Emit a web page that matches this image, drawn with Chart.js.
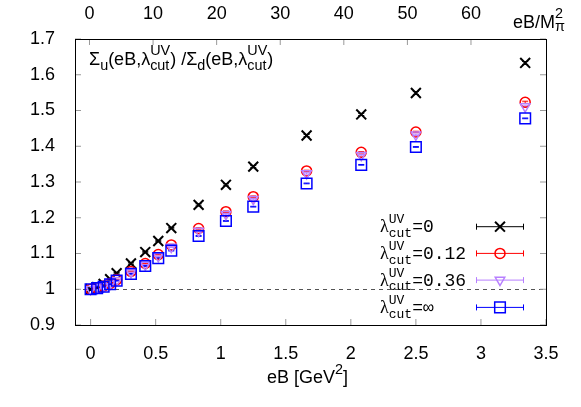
<!DOCTYPE html>
<html>
<head>
<meta charset="utf-8">
<title>Sigma_u / Sigma_d</title>
<script src="https://cdn.jsdelivr.net/npm/chart.js@4/dist/chart.umd.min.js"></script>
<style>
html, body { margin: 0; padding: 0; background: #fff; }
</style>
</head>
<body>
<canvas id="grafik" width="581" height="407"></canvas>
<script>
// data
var eB        = [0, 0.05, 0.10, 0.15, 0.20, 0.31, 0.42, 0.52, 0.62, 0.83, 1.04, 1.25, 1.66, 2.08, 2.50, 3.34];
var sigma_0   = [1.000, 1.006, 1.015, 1.028, 1.045, 1.072, 1.104, 1.135, 1.171, 1.236, 1.292, 1.343, 1.430, 1.489, 1.549, 1.633];
var sigma_012 = [1.000, 1.004, 1.009, 1.016, 1.027, 1.050, 1.072, 1.097, 1.124, 1.170, 1.217, 1.259, 1.331, 1.383, 1.440, 1.523];
var sigma_036 = [1.000, 1.003, 1.008, 1.015, 1.025, 1.047, 1.068, 1.092, 1.118, 1.163, 1.210, 1.252, 1.324, 1.375, 1.432, 1.511];
var sigma_inf = [1.000, 1.003, 1.007, 1.014, 1.024, 1.043, 1.065, 1.087, 1.108, 1.149, 1.191, 1.231, 1.296, 1.348, 1.398, 1.478];
var err_0     = [0.001, 0.001, 0.001, 0.001, 0.002, 0.002, 0.002, 0.002, 0.002, 0.003, 0.003, 0.003, 0.003, 0.003, 0.004, 0.004];
var err_012   = [0.001, 0.001, 0.001, 0.001, 0.001, 0.001, 0.001, 0.001, 0.002, 0.002, 0.002, 0.002, 0.002, 0.002, 0.002, 0.003];
var err_036   = [0.001, 0.001, 0.001, 0.001, 0.001, 0.001, 0.001, 0.001, 0.001, 0.002, 0.002, 0.002, 0.002, 0.002, 0.002, 0.002];
var err_inf   = [0.001, 0.001, 0.001, 0.001, 0.001, 0.001, 0.001, 0.001, 0.001, 0.001, 0.001, 0.001, 0.001, 0.001, 0.001, 0.001];

var x_ticks  = [0, 0.5, 1, 1.5, 2, 2.5, 3, 3.5];
var x2_ticks = [0, 10, 20, 30, 40, 50, 60];
var y_ticks  = [0.9, 1, 1.1, 1.2, 1.3, 1.4, 1.5, 1.6, 1.7];
var lambda_labels = ['0', '0.12', '0.36', '\u221e'];

var SANS = 'Liberation Sans';
var MONO = 'Liberation Mono';

function titik(ys, errs) {
    return eB.map(function(x, i){
        return {x: x, y: ys[i], e: errs[i]};
    });
}

// tulis teks dengan sub/superscript
function tulis(ctx, x, y, parts) {
    parts.forEach(function(p){
        ctx.font = p.f;
        if (p.sup !== undefined) {
            var w1 = ctx.measureText(p.sup).width;
            var w2 = ctx.measureText(p.sub).width;
            ctx.fillText(p.sup, x, y + p.dsup);
            ctx.fillText(p.sub, x, y + p.dsub);
            x += Math.max(w1, w2);
        } else {
            ctx.fillText(p.t, x, y + (p.dy || 0));
            x += ctx.measureText(p.t).width;
        }
    });
    return x;
}

function tickMarks(ctx, scale, ticks, horizontal, edge, dir) {
    ticks.forEach(function(v){
        var p = scale.getPixelForValue(v);
        ctx.beginPath();
        if (horizontal) {
            ctx.moveTo(p, edge);
            ctx.lineTo(p, edge + dir * 6);
        } else {
            ctx.moveTo(edge, p);
            ctx.lineTo(edge + dir * 6, p);
        }
        ctx.stroke();
    });
}

var extras = {
    id: 'extras',
    beforeDatasetsDraw: function(chart) {
        var ctx = chart.ctx;
        var a = chart.chartArea;
        var sx = chart.scales.x, sy = chart.scales.y;
        ctx.save();
        // garis putus-putus di 1
        ctx.strokeStyle = '#555';
        ctx.lineWidth = 1;
        ctx.setLineDash([4, 4]);
        ctx.beginPath();
        ctx.moveTo(a.left, Math.round(sy.getPixelForValue(1)) + 0.5);
        ctx.lineTo(a.right, Math.round(sy.getPixelForValue(1)) + 0.5);
        ctx.stroke();
        ctx.setLineDash([]);
        // error bar
        chart.data.datasets.forEach(function(ds){
            ctx.strokeStyle = ds.borderColor;
            ctx.lineWidth = 1;
            ds.data.forEach(function(d){
                var px = sx.getPixelForValue(d.x);
                var y1 = sy.getPixelForValue(d.y - d.e);
                var y2 = sy.getPixelForValue(d.y + d.e);
                ctx.beginPath();
                ctx.moveTo(px, y1); ctx.lineTo(px, y2);
                ctx.moveTo(px - 3, y1); ctx.lineTo(px + 3, y1);
                ctx.moveTo(px - 3, y2); ctx.lineTo(px + 3, y2);
                ctx.stroke();
            });
        });
        ctx.restore();
    },
    afterDraw: function(chart) {
        var ctx = chart.ctx;
        var a = chart.chartArea;
        ctx.save();
        // tick kecil ke dalam
        ctx.strokeStyle = '#999';
        ctx.lineWidth = 1;
        tickMarks(ctx, chart.scales.x, x_ticks, true, a.bottom, -1);
        tickMarks(ctx, chart.scales.x2, x2_ticks, true, a.top, 1);
        tickMarks(ctx, chart.scales.y, y_ticks, false, a.left, 1);
        tickMarks(ctx, chart.scales.y, y_ticks, false, a.right, -1);
        // bingkai
        ctx.strokeStyle = '#000';
        ctx.strokeRect(Math.round(a.left) + 0.5, Math.round(a.top) + 0.5, Math.round(a.right - a.left), Math.round(a.bottom - a.top));

        ctx.fillStyle = '#000';
        ctx.textAlign = 'left';
        ctx.textBaseline = 'alphabetic';
        var big = '18px "' + SANS + '"';
        var small = '14.4px "' + SANS + '"';
        // judul di dalam plot
        tulis(ctx, 89, 65, [
            {t: '\u03a3', f: big},
            {t: 'u', f: small, dy: 5},
            {t: '(eB,\u03bb', f: big},
            {sup: 'UV', sub: 'cut', f: small, dsup: -10, dsub: 5},
            {t: ') /\u03a3', f: big},
            {t: 'd', f: small, dy: 5},
            {t: '(eB,\u03bb', f: big},
            {sup: 'UV', sub: 'cut', f: small, dsup: -10, dsub: 5},
            {t: ')', f: big}
        ]);
        // label sumbu x
        tulis(ctx, 267, 383, [
            {t: 'eB [GeV', f: big},
            {t: '2', f: small, dy: -9},
            {t: ']', f: big}
        ]);
        // label sumbu atas
        tulis(ctx, 513, 28, [
            {t: 'eB/M', f: big},
            {sup: '2', sub: '\u03c0', f: small, dsup: -10, dsub: 3}
        ]);

        // legenda
        var rows = [232.3, 259, 285.7, 313];
        chart.data.datasets.forEach(function(ds, i){
            var b = rows[i];
            ctx.fillStyle = '#000';
            tulis(ctx, 380, b, [
                {t: '\u03bb', f: '18px "Liberation Serif"'},
                {sup: 'UV', sub: 'cut', f: '13px "' + MONO + '"', dsup: -9, dsub: 4.5},
                {t: '=' + lambda_labels[i], f: '18px "' + MONO + '"'}
            ]);
            var cy = b - 5.6;
            ctx.strokeStyle = ds.borderColor;
            ctx.lineWidth = 1;
            ctx.beginPath();
            ctx.moveTo(476, cy); ctx.lineTo(524, cy);
            ctx.moveTo(476.5, cy - 3); ctx.lineTo(476.5, cy + 3);
            ctx.moveTo(523.5, cy - 3); ctx.lineTo(523.5, cy + 3);
            ctx.stroke();
            ctx.fillStyle = 'rgba(0,0,0,0)';
            ctx.lineWidth = ds.borderWidth;
            Chart.helpers.drawPoint(ctx, {
                pointStyle: ds.pointStyle,
                radius: ds.pointRadius,
                rotation: ds.pointRotation || 0,
                borderWidth: ds.borderWidth
            }, 500, cy);
        });
        ctx.restore();
    }
};

function dataset(ys, errs, warna, gaya, r, lebar, urut, rot) {
    return {
        data: titik(ys, errs),
        showLine: false,
        borderColor: warna,
        backgroundColor: 'rgba(0,0,0,0)',
        pointStyle: gaya,
        pointRadius: r,
        pointHoverRadius: r,
        pointRotation: rot || 0,
        borderWidth: lebar,
        order: urut
    };
}

var tickFont = {family: SANS, size: 18};

new Chart(document.getElementById('grafik').getContext('2d'), {
    type: 'scatter',
    data: {
        datasets: [
            dataset(sigma_0,   err_0,   '#000000', 'crossRot', 7,   2,   3),
            dataset(sigma_012, err_012, '#ff0000', 'circle',   5,   1.5, 2),
            dataset(sigma_036, err_036, '#b77fff', 'triangle', 5.5, 1.5, 1, 180),
            dataset(sigma_inf, err_inf, '#0000ff', 'rect',     7.5, 1.5, 0)
        ]
    },
    options: {
        responsive: false,
        animation: false,
        devicePixelRatio: 1,
        layout: { padding: { left: 0, right: 35, top: 0, bottom: 0 } },
        plugins: {
            legend: { display: false },
            tooltip: { enabled: false }
        },
        scales: {
            x: {
                type: 'linear',
                position: 'bottom',
                min: -0.12,
                max: 3.5,
                afterBuildTicks: function(s){ s.ticks = x_ticks.map(function(v){ return {value: v}; }); },
                afterFit: function(s){ s.height = 82; },
                grid: { display: false },
                border: { display: false },
                ticks: { font: tickFont, color: '#000', padding: 10, maxRotation: 0, autoSkip: false,
                    callback: function(v){ return String(v); } }
            },
            x2: {
                type: 'linear',
                position: 'top',
                min: -2.28,
                max: 71.8,
                afterBuildTicks: function(s){ s.ticks = x2_ticks.map(function(v){ return {value: v}; }); },
                afterFit: function(s){ s.height = 39; },
                grid: { display: false },
                border: { display: false },
                ticks: { font: tickFont, color: '#000', padding: 6, maxRotation: 0, autoSkip: false,
                    callback: function(v){ return String(v); } }
            },
            y: {
                type: 'linear',
                position: 'left',
                min: 0.9,
                max: 1.7,
                afterBuildTicks: function(s){ s.ticks = y_ticks.map(function(v){ return {value: v}; }); },
                afterFit: function(s){ s.width = 75; },
                grid: { display: false },
                border: { display: false },
                ticks: { font: tickFont, color: '#000', padding: 12, autoSkip: false,
                    callback: function(v){ return String(v); } }
            }
        }
    },
    plugins: [extras]
});
</script>
</body>
</html>
